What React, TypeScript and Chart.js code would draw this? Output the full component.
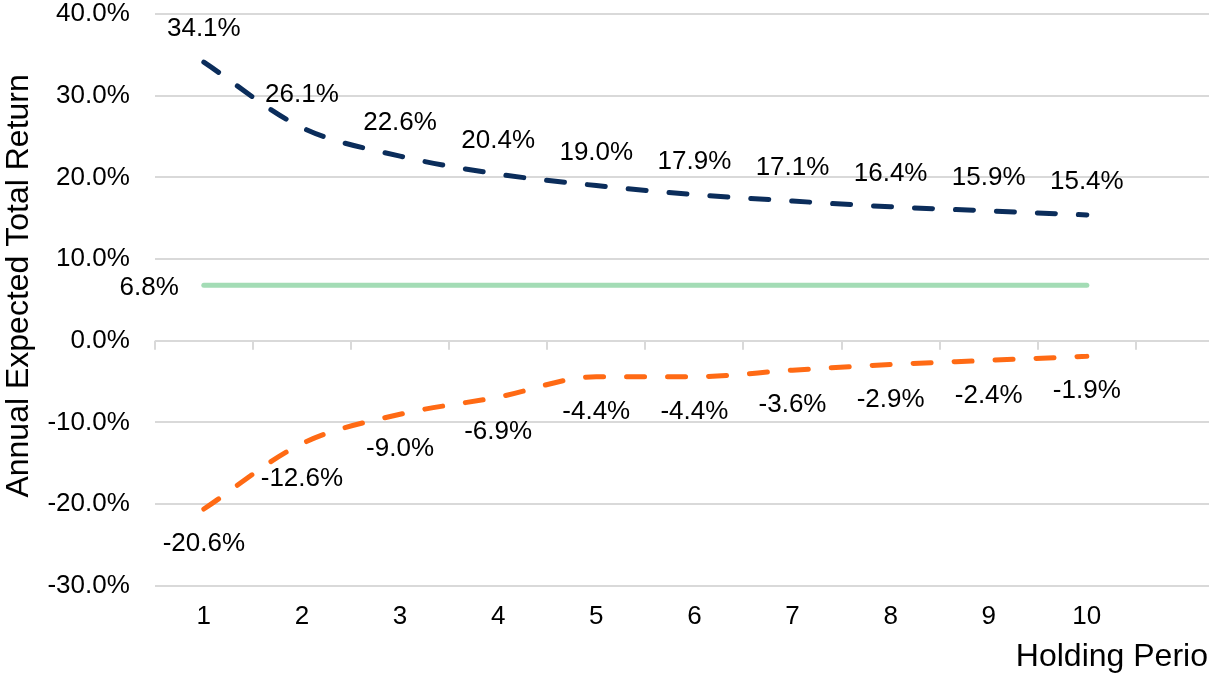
import React, { useEffect, useRef } from "react";
import { Chart, registerables } from "chart.js";

Chart.register(...registerables);

const categories = ["1", "2", "3", "4", "5", "6", "7", "8", "9", "10", ""];
const upperReturns = [34.1, 26.1, 22.6, 20.4, 19.0, 17.9, 17.1, 16.4, 15.9, 15.4];
const lowerReturns = [-20.6, -12.6, -9.0, -6.9, -4.4, -4.4, -3.6, -2.9, -2.4, -1.9];
const expectedReturn = [6.8, 6.8, 6.8, 6.8, 6.8, 6.8, 6.8, 6.8, 6.8, 6.8];
const yTicks = [-30, -20, -10, 0, 10, 20, 30, 40];
const yAxisTitle = "Annual Expected Total Return";
const xAxisTitle = "Holding Period";

const FONT = "'Liberation Sans', Arial, sans-serif";
const BLUE = "#0B2D5B";
const ORANGE = "#FF6A14";
const GREEN = "#A3DCB5";
const GRID = "#D9D9D9";

const labelPlugin = {
  id: "valueLabels",
  afterDatasetsDraw(chart: any) {
    const ctx = chart.ctx;
    const xs = chart.scales.x;
    const ys = chart.scales.y;
    ctx.save();
    // tick marks along the zero line, at category boundaries
    const zeroY = ys.getPixelForValue(0);
    const half = (xs.getPixelForValue(1) - xs.getPixelForValue(0)) / 2;
    ctx.strokeStyle = GRID;
    ctx.lineWidth = 2;
    ctx.beginPath();
    for (let i = 0; i < categories.length; i++) {
      const x = Math.round(xs.getPixelForValue(i) - half);
      ctx.moveTo(x, zeroY);
      ctx.lineTo(x, zeroY + 9);
    }
    ctx.stroke();

    ctx.font = `26px ${FONT}`;
    ctx.fillStyle = "#000000";
    ctx.textBaseline = "middle";
    chart.data.datasets.forEach((ds: any, di: number) => {
      const meta = chart.getDatasetMeta(di);
      meta.data.forEach((pt: any, i: number) => {
        const v = ds.data[i];
        if (v === undefined || v === null) return;
        const txt = v.toFixed(1) + "%";
        if (ds.labelMode === "above") {
          ctx.textAlign = "center";
          ctx.fillText(txt, pt.x, pt.y - 33);
        } else if (ds.labelMode === "below") {
          ctx.textAlign = "center";
          ctx.fillText(txt, pt.x, pt.y + 35);
        } else if (ds.labelMode === "left" && i === 0) {
          ctx.textAlign = "right";
          ctx.fillText(txt, pt.x - 25, pt.y + 3);
        }
      });
    });
    // x-axis title
    ctx.font = `32px ${FONT}`;
    ctx.textAlign = "left";
    ctx.textBaseline = "middle";
    ctx.fillText(xAxisTitle, xs.getPixelForValue(9) - 71, chart.height - 16);
    // y-axis title
    ctx.save();
    ctx.translate(19, (chart.chartArea.top + chart.chartArea.bottom) / 2 - 14);
    ctx.rotate(-Math.PI / 2);
    ctx.textAlign = "center";
    ctx.fillText(yAxisTitle, 0, 0);
    ctx.restore();
    ctx.restore();
  },
};

export default function App() {
  const ref = useRef<HTMLCanvasElement | null>(null);
  useEffect(() => {
    if (!ref.current) return;
    const chart = new Chart(ref.current, {
      type: "line",
      data: {
        labels: categories,
        datasets: [
          {
            label: "Upper",
            data: upperReturns,
            borderColor: BLUE,
            borderWidth: 5,
            borderDash: [18, 23],
            borderCapStyle: "round",
            pointRadius: 0,
            cubicInterpolationMode: "monotone",
            fill: false,
            labelMode: "above",
          } as any,
          {
            label: "Lower",
            data: lowerReturns,
            borderColor: ORANGE,
            borderWidth: 5,
            borderDash: [18, 23],
            borderCapStyle: "round",
            pointRadius: 0,
            cubicInterpolationMode: "monotone",
            fill: false,
            labelMode: "below",
          } as any,
          {
            label: "Expected",
            data: expectedReturn,
            borderColor: GREEN,
            borderWidth: 5,
            borderCapStyle: "round",
            pointRadius: 0,
            tension: 0,
            fill: false,
            labelMode: "left",
          } as any,
        ],
      },
      options: {
        responsive: false,
        animation: false,
        layout: { padding: { left: 0, right: 0, top: 14, bottom: 41 } },
        plugins: {
          legend: { display: false },
          tooltip: { enabled: false },
        },
        scales: {
          x: {
            type: "category",
            position: "bottom",
            offset: true,
            grid: { display: false, drawTicks: false },
            border: { display: false },
            ticks: {
              color: "#000000",
              font: { family: FONT, size: 26 },
              padding: 15,
              maxRotation: 0,
              autoSkip: false,
            },
            afterFit: (scale: any) => {
              scale.height = scale.height - 15;
              scale.paddingLeft = 0;
              scale.paddingRight = 0;
            },
          },
          y: {
            min: -30,
            max: 40,
            afterBuildTicks: (scale: any) => {
              scale.ticks = yTicks.map((v) => ({ value: v }));
            },
            grid: { color: GRID, lineWidth: 2, drawTicks: false },
            border: { display: false },
            ticks: {
              color: "#000000",
              font: { family: FONT, size: 26 },
              padding: 25,
              callback: (v: any) => Number(v).toFixed(1) + "%",
            },
            afterFit: (scale: any) => {
              scale.width = scale.width - 25 + 47.4;
              scale.paddingTop = 0;
              scale.paddingBottom = 0;
            },
          },
        },
      },
      plugins: [labelPlugin],
    });
    return () => chart.destroy();
  }, []);
  return (
    <div
      style={{
        position: "absolute",
        left: 0,
        top: 0,
        width: 1209,
        height: 673,
        overflow: "hidden",
        background: "#ffffff",
      }}
    >
      <canvas ref={ref} width={1234} height={673} style={{ display: "block" }} />
    </div>
  );
}
